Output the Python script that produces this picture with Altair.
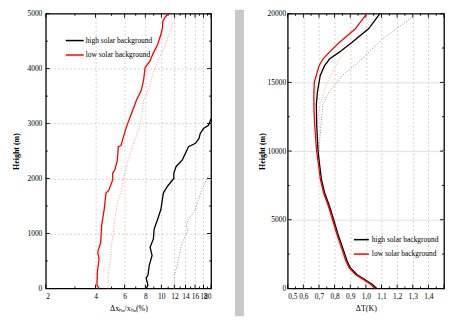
import altair as alt
import pandas as pd

FONT = "Liberation Serif"

# ---------------- left panel: relative error of x_HO (%) vs height (m)
L_HIGH_SOLID_H = [0, 60, 190, 240, 420, 600, 750, 900, 1080, 1260, 1440, 1620, 1740, 1860, 2000, 2100, 2220, 2340, 2520, 2580, 2640, 2730, 2820, 2910, 2970, 3090]
L_HIGH_SOLID_X = [8.1, 8.3, 8.09, 8.3, 8.45, 8.79, 8.55, 8.95, 9.05, 9.5, 9.94, 10.15, 10.3, 10.9, 11.9, 11.9, 12.3, 13.4, 14.3, 14.6, 16.1, 16.9, 17.2, 18.0, 19.3, 20.0]

L_HIGH_DOT_H = [0, 240, 420, 600, 840, 960, 1080, 1140, 1260, 1440, 1620, 1800, 2000, 2100]
L_HIGH_DOT_X = [11.9, 12.0, 12.5, 12.8, 13.4, 14.0, 14.6, 14.1, 14.6, 16.1, 16.8, 17.6, 18.85, 20.0]

L_LOW_SOLID_H = [0, 60, 300, 540, 660, 840, 1140, 1440, 1740, 1780, 1980, 2100, 2160, 2340, 2580, 2600, 2700, 2940, 3180, 3420, 3600, 3780, 4020, 4140, 4260, 4440, 4620, 4740, 4860, 4950, 5000]
L_LOW_SOLID_X = [4.2, 4.08, 4.1, 4.2, 4.12, 4.3, 4.35, 4.51, 4.63, 4.8, 5.08, 5.08, 5.24, 5.42, 5.49, 5.7, 5.82, 6.15, 6.59, 7.06, 7.55, 7.8, 7.98, 8.55, 8.87, 9.5, 9.94, 10.17, 10.2, 10.6, 11.1]

L_LOW_DOT_H = [0, 300, 500, 800, 1000, 1300, 1600, 1750, 2000, 2340, 2580, 2940, 3180, 3420, 3660, 3900, 4140, 4380, 4620, 4860, 5000]
L_LOW_DOT_X = [4.74, 4.78, 4.9, 5.0, 5.13, 5.25, 5.45, 5.74, 5.88, 6.3, 6.68, 7.38, 7.67, 7.8, 8.47, 8.87, 9.5, 10.4, 11.1, 11.9, 12.5]

L_X_MAJOR = [2, 4, 6, 8, 10, 12, 14, 16, 18, 20]
L_X_MINOR = [3, 5, 7, 9, 11, 13, 15, 17, 19]
L_Y_MAJOR = [0, 1000, 2000, 3000, 4000, 5000]
L_Y_MINOR = [500, 1500, 2500, 3500, 4500]

# ---------------- right panel: temperature error (K) vs height (m)
R_HIGH_SOLID_H = [0, 300, 700, 1000, 1500, 2000, 3000, 4000, 5000, 6000, 7000, 8000, 9000, 10000, 12000, 13400, 14300, 15500, 16200, 16700, 17200, 17900, 18900, 20000]
R_HIGH_SOLID_X = [1.07, 1.04, 0.985, 0.944, 0.90, 0.88, 0.85, 0.82, 0.794, 0.767, 0.735, 0.715, 0.704, 0.694, 0.685, 0.683, 0.69, 0.708, 0.735, 0.767, 0.83, 0.91, 1.017, 1.09]

R_LOW_SOLID_H = [0, 300, 700, 1000, 1500, 2000, 3000, 4000, 5000, 6000, 7000, 8000, 9000, 10000, 11000, 12000, 13000, 14000, 15000, 15500, 16200, 16700, 17200, 17900, 18900, 20000]
R_LOW_SOLID_X = [1.058, 1.03, 0.975, 0.935, 0.893, 0.872, 0.843, 0.813, 0.787, 0.76, 0.728, 0.708, 0.697, 0.685, 0.678, 0.672, 0.668, 0.667, 0.67, 0.683, 0.70, 0.725, 0.767, 0.83, 0.933, 1.006]

R_HIGH_DOT_H = [10000, 11500, 13400, 14350, 15500, 16700, 18100, 19700, 20000]
R_HIGH_DOT_X = [0.70, 0.71, 0.725, 0.767, 0.85, 0.975, 1.1, 1.29, 1.31]

R_LOW_DOT_H = [12000, 13500, 14800, 15800, 16700, 17800, 19000, 20000]
R_LOW_DOT_X = [0.685, 0.71, 0.745, 0.79, 0.83, 0.91, 1.0, 1.08]

R_X_MAJOR = [0.5, 0.6, 0.7, 0.8, 0.9, 1.0, 1.1, 1.2, 1.3, 1.4, 1.5]
R_X_MINOR = [0.55, 0.65, 0.75, 0.85, 0.95, 1.05, 1.15, 1.25, 1.35, 1.45]
R_Y_MAJOR = [0, 5000, 10000, 15000, 20000]
R_Y_MINOR = [2500, 7500, 12500, 17500]

SERIES = ["high solar background", "low solar background"]

W1, H1 = 166, 276
W2, H2 = 157, 276
GRAY = "#c8c8c8"


def path_df(xs, hs, name):
    return pd.DataFrame({"x": xs, "h": hs, "s": name, "i": list(range(len(xs)))})


def tick_layers(X, Y, xmaj, xmin, ymaj, ymin, W, H):
    layers = []
    for vals, size in ((xmaj, 4), (xmin, 2)):
        df = pd.DataFrame({"x": vals})
        for pos in (H - size / 2, size / 2):
            layers.append(alt.Chart(df).mark_tick(size=size, thickness=0.9, color="black", opacity=1)
                          .encode(x=X, y=alt.value(pos)))
    for vals, size in ((ymaj, 4), (ymin, 2)):
        df = pd.DataFrame({"h": vals})
        for pos in (size / 2, W - size / 2):
            layers.append(alt.Chart(df).mark_tick(size=size, thickness=0.9, color="black", opacity=1)
                          .encode(y=Y, x=alt.value(pos)))
    return layers


def panel(X, Y, solid_df, dots, legend, ticks, W, H, extra=None):
    color = alt.Color("s:N", scale=alt.Scale(domain=SERIES, range=["black", "red"]), legend=legend)
    layers = []
    if extra is not None:
        layers.append(extra)
    layers += ticks
    for df, col in dots:
        layers.append(alt.Chart(df).mark_line(strokeWidth=0.9, strokeDash=[1, 1.6], color=col)
                      .encode(x=X, y=Y, order="i:Q"))
    layers.append(alt.Chart(solid_df).mark_line(strokeWidth=1.3)
                  .encode(x=X, y=Y, color=color, order="i:Q"))
    return alt.layer(*layers).properties(width=W, height=H)


def grid_hide(lo, hi):
    return {"condition": {"test": f"datum.value <= {lo} || datum.value >= {hi}", "value": 0}, "value": 1}


# ---- left
XL = alt.X("x:Q", scale=alt.Scale(type="log", domain=[2, 20], nice=False),
           axis=alt.Axis(values=L_X_MAJOR, format="d", title="Δxₕₒ/xₕₒ(%)", ticks=False, domain=False,
                         grid=True, gridDash=[2, 2], gridColor="#bdbdbd", gridWidth=0.7,
                         gridOpacity=grid_hide(2.01, 19.99), labelOverlap=False,
                         labelPadding=4, titlePadding=5, titleFontWeight="normal"))
YL = alt.Y("h:Q", scale=alt.Scale(domain=[0, 5000], nice=False),
           axis=alt.Axis(values=L_Y_MAJOR, format="d", title="Height (m)", ticks=False, domain=False,
                         grid=True, gridDash=[2, 2], gridColor="#bdbdbd", gridWidth=0.7,
                         gridOpacity=grid_hide(1, 4999), labelOverlap=False,
                         labelPadding=4, titlePadding=6, titleFontWeight="bold"))

left_solid = pd.concat([path_df(L_HIGH_SOLID_X, L_HIGH_SOLID_H, SERIES[0]),
                        path_df(L_LOW_SOLID_X, L_LOW_SOLID_H, SERIES[1])])
left_dots = [(path_df(L_HIGH_DOT_X, L_HIGH_DOT_H, "hd"), "#8a8a8a"),
             (path_df(L_LOW_DOT_X, L_LOW_DOT_H, "ld"), "#ff8c8c")]

legend_common = dict(orient="none", title=None, symbolSize=100,
                     symbolStrokeWidth=1.5, labelFont=FONT, labelFontSize=7.5, labelColor="black",
                     rowPadding=4.5, padding=0)

strip = alt.Chart(pd.DataFrame({"a": [0]})).mark_rect(color=GRAY).encode(
    x=alt.value(W1 + 24), x2=alt.value(W1 + 33), y=alt.value(-4), y2=alt.value(H1 + 28))

left = panel(XL, YL, left_solid, left_dots,
             alt.Legend(legendX=23, legendY=21, symbolType="M-1.8,0H1.8", labelOffset=5, **legend_common),
             tick_layers(XL, YL, L_X_MAJOR, L_X_MINOR, L_Y_MAJOR, L_Y_MINOR, W1, H1), W1, H1, extra=strip)

# ---- right
XR = alt.X("x:Q", scale=alt.Scale(domain=[0.5, 1.5], nice=False),
           axis=alt.Axis(values=R_X_MAJOR, title="ΔT(K)", ticks=False, domain=False,
                         labelExpr="datum.value > 1.45 ? '' : replace(format(datum.value, '.1f'), '.', ',')",
                         grid=True, gridDash=[2, 2], gridColor="#bdbdbd", gridWidth=0.7,
                         gridOpacity=grid_hide(0.51, 1.49), labelOverlap=False,
                         labelPadding=4, titlePadding=5, titleFontWeight="normal"))
YR = alt.Y("h:Q", scale=alt.Scale(domain=[0, 20000], nice=False),
           axis=alt.Axis(values=R_Y_MAJOR, format="d", title="Height (m)", ticks=False, domain=False,
                         grid=True, gridColor="#dadada", gridWidth=0.8,
                         gridOpacity=grid_hide(1, 19999), labelOverlap=False,
                         labelPadding=2, titlePadding=1, titleFontWeight="bold"))

right_solid = pd.concat([path_df(R_HIGH_SOLID_X, R_HIGH_SOLID_H, SERIES[0]),
                         path_df(R_LOW_SOLID_X, R_LOW_SOLID_H, SERIES[1])])
right_dots = [(path_df(R_HIGH_DOT_X, R_HIGH_DOT_H, "hd"), "#8a8a8a"),
              (path_df(R_LOW_DOT_X, R_LOW_DOT_H, "ld"), "#ff9c9c")]

right = panel(XR, YR, right_solid, right_dots,
              alt.Legend(legendX=68, legendY=221, symbolType="M-1.5,0H1.5", labelOffset=4.5, **legend_common),
              tick_layers(XR, YR, R_X_MAJOR, R_X_MINOR, R_Y_MAJOR, R_Y_MINOR, W2, H2), W2, H2)

chart = (alt.hconcat(left, right, spacing=12)
         .resolve_scale(color="independent", x="independent", y="independent")
         .resolve_legend(color="independent")
         .properties(padding={"left": 4, "top": 0, "right": 0, "bottom": 0}, background="white")
         .configure_view(stroke="black", strokeWidth=1.3)
         .configure_axis(labelFont=FONT, titleFont=FONT, labelFontSize=7.5, titleFontSize=8,
                         labelColor="black", titleColor="black"))

chart.save("out.html", embed_options={"renderer": "svg", "actions": False})
